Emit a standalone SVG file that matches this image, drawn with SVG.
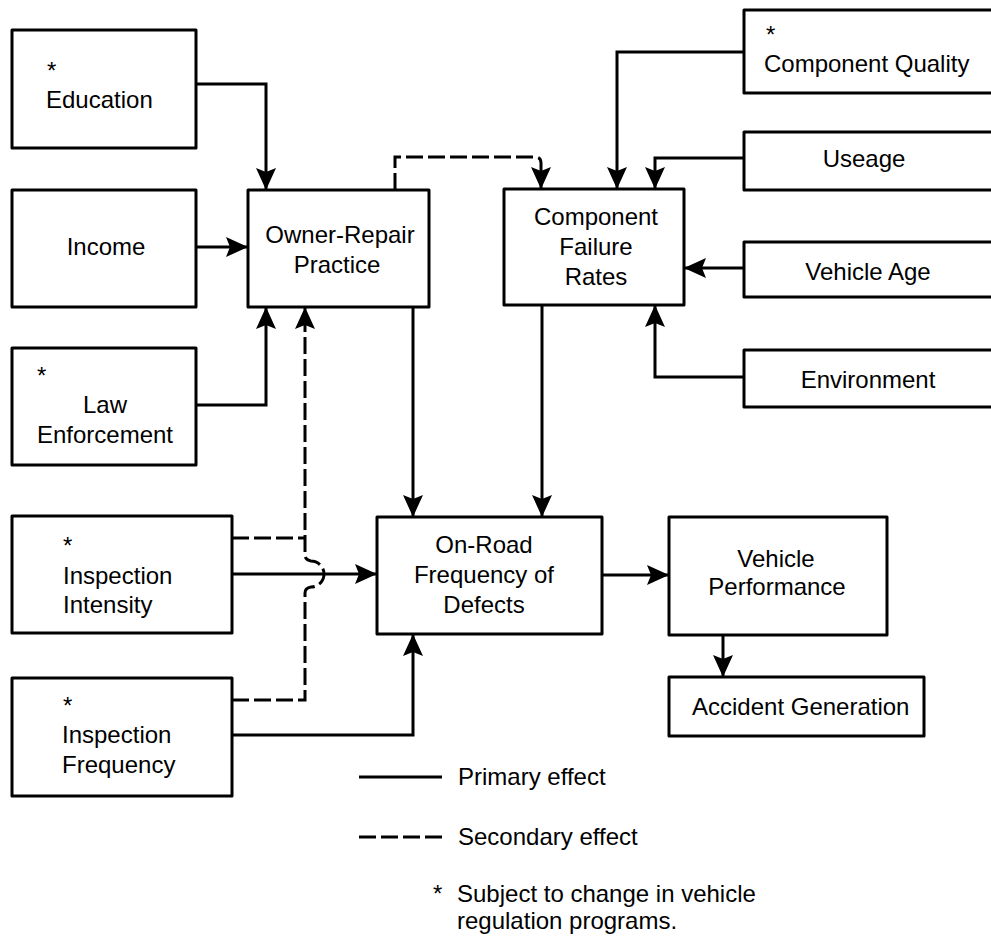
<svg xmlns="http://www.w3.org/2000/svg" width="991" height="936" viewBox="0 0 991 936">
  <style>
    .box { fill: #fff; stroke: #000; stroke-width: 3; stroke-linejoin: round; }
    .lbl { font-family: "Liberation Sans", Arial, sans-serif; font-size: 24px; fill: #000; }
    .mid { text-anchor: middle; }
    .wire { fill: none; stroke: #000; stroke-width: 3; }
    .dash { stroke-dasharray: 17 5; }
    .arr { marker-end: url(#head); }
  </style>
  <defs>
    <marker id="head" markerUnits="userSpaceOnUse" markerWidth="24" markerHeight="22" refX="22" refY="10" orient="auto">
      <path d="M0,0 L22,10 L0,20 L4,10 Z" fill="#000"/>
    </marker>
  </defs>
  <rect width="991" height="936" fill="#fff"/>

  <g id="connectors">
    <!-- primary effects -->
    <path class="wire arr" d="M196,84 H266 V190"/>
    <path class="wire arr" d="M196,247 H248"/>
    <path class="wire arr" d="M196,405 H266 V307"/>
    <path class="wire arr" d="M413,307 V517"/>
    <path class="wire arr" d="M542,305 V517"/>
    <path class="wire arr" d="M232,574 H377"/>
    <path class="wire arr" d="M232,735 H413 V634"/>
    <path class="wire arr" d="M602,575 H669"/>
    <path class="wire arr" d="M723,635 V677"/>
    <path class="wire arr" d="M744,52 H617 V189"/>
    <path class="wire arr" d="M744,158 H655 V189"/>
    <path class="wire arr" d="M744,268 H684"/>
    <path class="wire arr" d="M744,377 H655 V305"/>
    <!-- secondary effects -->
    <path class="wire dash arr" d="M395,190 V157 H535 Q541,157 541,163 V189"/>
    <path class="wire dash" d="M232,538 H305"/>
    <path class="wire dash arr" d="M232,700 H305 V593 Q305,588 311,587 A13,13 0 0 0 311,561 Q305,560 305,555 V307"/>
  </g>

  <g id="education">
    <rect class="box" x="12" y="30" width="184" height="118"/>
    <text class="lbl" x="47" y="79">*</text>
    <text class="lbl" x="46" y="108">Education</text>
  </g>
  <g id="income">
    <rect class="box" x="12" y="190" width="184" height="117"/>
    <text class="lbl mid" x="106" y="255">Income</text>
  </g>
  <g id="law-enforcement">
    <rect class="box" x="12" y="348" width="184" height="117"/>
    <text class="lbl" x="37" y="384">*</text>
    <text class="lbl mid" x="105" y="413">Law</text>
    <text class="lbl mid" x="105" y="443">Enforcement</text>
  </g>
  <g id="inspection-intensity">
    <rect class="box" x="12" y="516" width="220" height="117"/>
    <text class="lbl" x="63" y="554">*</text>
    <text class="lbl" x="63" y="584">Inspection</text>
    <text class="lbl" x="63" y="613">Intensity</text>
  </g>
  <g id="inspection-frequency">
    <rect class="box" x="12" y="678" width="220" height="118"/>
    <text class="lbl" x="63" y="714">*</text>
    <text class="lbl" x="62" y="743">Inspection</text>
    <text class="lbl" x="62" y="773">Frequency</text>
  </g>
  <g id="owner-repair">
    <rect class="box" x="248" y="190" width="181" height="117"/>
    <text class="lbl mid" x="340" y="243">Owner-Repair</text>
    <text class="lbl mid" x="337" y="273">Practice</text>
  </g>
  <g id="component-failure">
    <rect class="box" x="504" y="189" width="180" height="116"/>
    <text class="lbl mid" x="596" y="225">Component</text>
    <text class="lbl mid" x="596" y="255">Failure</text>
    <text class="lbl mid" x="596" y="285">Rates</text>
  </g>
  <g id="component-quality">
    <rect class="box" x="744" y="10" width="270" height="83"/>
    <text class="lbl" x="766" y="43">*</text>
    <text class="lbl" x="764" y="72">Component Quality</text>
  </g>
  <g id="useage">
    <rect class="box" x="744" y="132" width="270" height="58"/>
    <text class="lbl mid" x="864" y="167">Useage</text>
  </g>
  <g id="vehicle-age">
    <rect class="box" x="744" y="242" width="270" height="55"/>
    <text class="lbl mid" x="868" y="280">Vehicle Age</text>
  </g>
  <g id="environment">
    <rect class="box" x="744" y="350" width="270" height="57"/>
    <text class="lbl mid" x="868" y="388">Environment</text>
  </g>
  <g id="on-road">
    <rect class="box" x="377" y="517" width="225" height="117"/>
    <text class="lbl mid" x="484" y="553">On-Road</text>
    <text class="lbl mid" x="484" y="583">Frequency of</text>
    <text class="lbl mid" x="484" y="613">Defects</text>
  </g>
  <g id="vehicle-performance">
    <rect class="box" x="669" y="517" width="218" height="118"/>
    <text class="lbl mid" x="776" y="567">Vehicle</text>
    <text class="lbl mid" x="777" y="595">Performance</text>
  </g>
  <g id="accident-generation">
    <rect class="box" x="669" y="677" width="255" height="59"/>
    <text class="lbl" x="692" y="715">Accident Generation</text>
  </g>

  <g id="legend">
    <line class="wire" x1="359" y1="777" x2="442" y2="777"/>
    <text class="lbl" x="458" y="785">Primary effect</text>
    <line class="wire dash" x1="359" y1="837" x2="442" y2="837"/>
    <text class="lbl" x="458" y="845">Secondary effect</text>
    <text class="lbl" x="433" y="902">*</text>
    <text class="lbl" x="457" y="902">Subject to change in vehicle</text>
    <text class="lbl" x="457" y="929">regulation programs.</text>
  </g>
</svg>
